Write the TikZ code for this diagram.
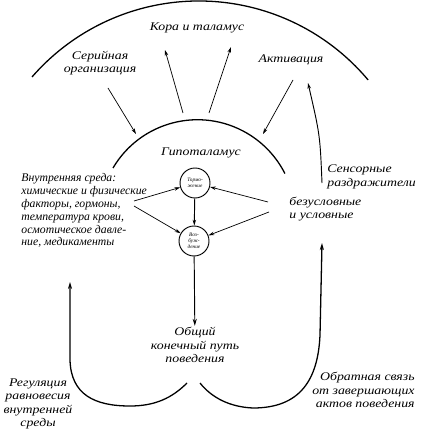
\documentclass[tikz,border=0pt]{standalone}
\usepackage{fontspec}
\setmainfont{Liberation Serif}
\newfontfamily\widefont{Liberation Serif}[FakeStretch=1.18]
\usetikzlibrary{arrows.meta}

\begin{document}
\begin{tikzpicture}[x=0.03cm,y=-0.03cm,lbl/.style={font=\widefont\itshape\fontsize{10}{11.5}\selectfont,align=center,inner sep=1pt},lblleft/.style={lbl,align=left},center/.style={draw,circle,thick,minimum size=0.9cm,inner sep=0pt,align=center,font=\itshape\fontsize{4.5}{5}\selectfont},contour/.style={line width=1.1pt},arrow/.style={-{Stealth[length=5pt,width=3pt]},semithick},bigarrow/.style={-{Stealth[length=6pt,width=3.5pt]},thick}]
\useasboundingbox (0,0) rectangle (424,432);
\node[lbl] (kora) at (197,28) {Кора и таламус};
\node[lbl] (serial) at (100,63) {Серийная\\организация};
\node[lbl] (activ) at (291,60) {Активация};
\node[lbl] (hypo) at (201,153) {Гипоталамус};
\node[center] (inhib) at (195,183) {Тормо-\\жение};
\node[center] (excit) at (194,241) {Воз-\\буж-\\дение};
\node[lblleft,anchor=north west,font=\itshape\fontsize{10}{11}\selectfont] (internal) at (20,172) {Внутренняя среда:\\химические и физические\\факторы, гормоны,\\температура крови,\\осмотическое давле-\\ние, медикаменты};
\node[lblleft,anchor=west] (sensory) at (326,177) {Сенсорные\\раздражители};
\node[lblleft,anchor=west] (uncond) at (288,209) {безусловные\\и условные};
\node[lbl] (common) at (195,345) {Общий\\конечный путь\\поведения};
\node[lbl] (regul) at (38,404) {Регуляция\\равновесия\\внутренней\\среды};
\node[lbl,align=right,anchor=east] (feedback) at (416,390) {Обратная связь\\от завершающих\\актов поведения};
\coordinate (outerL) at (32,77);
\coordinate (innerL) at (113,168);
\draw[contour] (outerL) arc[start angle=-139,end angle=-40,radius=221];
\draw[contour] (innerL) arc[start angle=-149.5,end angle=-26.8,radius=98];
\coordinate (serialT) at (108,88);
\coordinate (serialH) at (136,134);
\coordinate (koraA) at (183,113);
\coordinate (koraAt) at (165,50);
\coordinate (koraB) at (209,113);
\coordinate (koraBt) at (231,47);
\coordinate (activT) at (293,80);
\coordinate (activH) at (263,134);
\coordinate (sensS) at (322,183);
\coordinate (sensT) at (308,83);
\draw[arrow] (serialT) -- (serialH);
\draw[arrow] (koraA) -- (koraAt);
\draw[arrow] (koraB) -- (koraBt);
\draw[arrow] (activT) -- (activH);
\draw[arrow,thick] (sensS) .. controls (320,135) .. (sensT);
\coordinate (intA) at (134,201);
\coordinate (intB) at (134,206);
\coordinate (uncA) at (268,202);
\coordinate (uncB) at (269,212);
\draw[arrow] (intA) -- (inhib);
\draw[arrow] (intB) -- (excit);
\draw[arrow] (uncA) -- (inhib);
\draw[arrow] (uncB) -- (excit);
\draw[arrow,thick] (inhib) -- (excit);
\draw[bigarrow] (excit) -- (common);
\coordinate (commonL) at (187,383);
\coordinate (commonR) at (200,383);
\coordinate (regulT) at (70,282);
\coordinate (feedT) at (322,243);
\draw[contour,-{Stealth[length=6pt,width=3.5pt]}] (commonL) .. controls (172,398) and (155,406) .. (130,406) .. controls (95,406) and (71,395) .. (70,360) -- (regulT);
\draw[contour,-{Stealth[length=6pt,width=3.5pt]}] (commonR) .. controls (212,398) and (230,407) .. (253,408) .. controls (300,408) and (318,380) .. (320,335) -- (feedT);
\end{tikzpicture}
\end{document}
